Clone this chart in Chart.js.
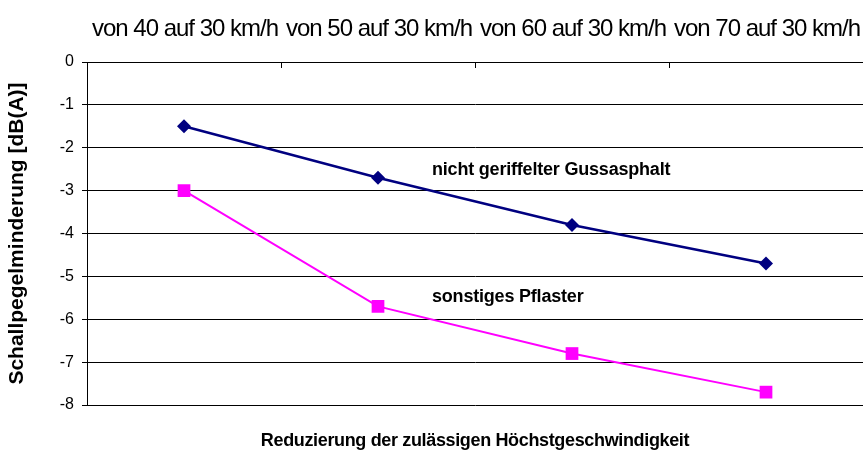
<!DOCTYPE html>
<html>
<head>
<meta charset="utf-8">
<script src="https://cdn.jsdelivr.net/npm/chart.js@4/dist/chart.umd.min.js"></script>
<style>
  body { margin: 0; background: #fff; }
  canvas { display: block; }
</style>
</head>
<body>
<canvas id="noiseChart" width="863" height="455"></canvas>
<script>
const categories = ['von 40 auf 30 km/h', 'von 50 auf 30 km/h', 'von 60 auf 30 km/h', 'von 70 auf 30 km/h'];
const gussasphalt = [-1.5, -2.7, -3.8, -4.7];
const pflaster = [-3.0, -5.7, -6.8, -7.7];
const seriesNames = ['nicht geriffelter Gussasphalt', 'sonstiges Pflaster'];
const xTitle = 'Reduzierung der zulässigen Höchstgeschwindigkeit';
const yTitle = 'Schallpegelminderung [dB(A)]';

// category labels on top, inner tick marks, line annotations and bottom title
const extras = {
    id: 'extras',
    afterDraw(chart) {
        const ctx = chart.ctx;
        const x = chart.scales.x;
        const y = chart.scales.y;
        const area = chart.chartArea;
        ctx.save();
        ctx.strokeStyle = '#000';
        ctx.lineWidth = 1;
        for (let i = 1; i < categories.length; i++) {
            const px = Math.round((x.getPixelForValue(i - 1) + x.getPixelForValue(i)) / 2) + 0.5;
            ctx.beginPath();
            ctx.moveTo(px, area.top);
            ctx.lineTo(px, area.top + 6);
            ctx.stroke();
        }
        ctx.fillStyle = '#000';
        ctx.textBaseline = 'middle';
        ctx.textAlign = 'center';
        ctx.font = '24px "Liberation Sans", Arial, sans-serif';
        ctx.letterSpacing = '-1px';
        categories.forEach((c, i) => ctx.fillText(c, x.getPixelForValue(i) + 1, 29));

        ctx.font = 'bold 18px "Liberation Sans", Arial, sans-serif';
        ctx.letterSpacing = '-0.2px';
        ctx.textAlign = 'left';
        ctx.fillText(seriesNames[0], x.getPixelForValue(1) + 54, y.getPixelForValue(-2.52));
        ctx.fillText(seriesNames[1], x.getPixelForValue(1) + 54, y.getPixelForValue(-5.48));
        ctx.textAlign = 'center';
        ctx.letterSpacing = '-0.35px';
        ctx.fillText(xTitle, (area.left + area.right) / 2, 441);
        ctx.restore();
    }
};

new Chart(document.getElementById('noiseChart'), {
    type: 'line',
    data: {
        labels: categories,
        datasets: [
            {
                label: seriesNames[0],
                data: gussasphalt,
                borderColor: '#000080',
                backgroundColor: '#000080',
                borderWidth: 2.5,
                pointStyle: 'rectRot',
                pointRadius: 7,
                pointBorderWidth: 0,
                tension: 0
            },
            {
                label: seriesNames[1],
                data: pflaster,
                borderColor: '#ff00ff',
                backgroundColor: '#ff00ff',
                borderWidth: 2,
                pointStyle: 'rect',
                pointRadius: 9,
                pointBorderWidth: 0,
                tension: 0
            }
        ]
    },
    options: {
        responsive: false,
        animation: false,
        layout: { autoPadding: false, padding: { left: 5, right: -1, top: 10, bottom: 50 } },
        plugins: {
            legend: { display: false },
            tooltip: { enabled: false }
        },
        scales: {
            x: {
                position: 'top',
                offset: true,
                grid: { display: false, drawTicks: false },
                border: { display: false },
                ticks: { display: false },
                afterFit(scale) { scale.height = 52; }
            },
            y: {
                min: -8,
                max: 0,
                ticks: {
                    stepSize: 1,
                    color: '#000',
                    font: { family: '"Liberation Sans", Arial, sans-serif', size: 16 },
                    padding: 8
                },
                grid: { color: '#000', lineWidth: 1, tickLength: 5 },
                border: { color: '#000', width: 1 },
                title: {
                    display: true,
                    text: yTitle,
                    color: '#000',
                    font: { family: '"Liberation Sans", Arial, sans-serif', size: 21, weight: 'bold' },
                    padding: { top: 0, bottom: 0 }
                },
                afterFit(scale) { scale.width = 82; }
            }
        }
    },
    plugins: [extras]
});
</script>
</body>
</html>
